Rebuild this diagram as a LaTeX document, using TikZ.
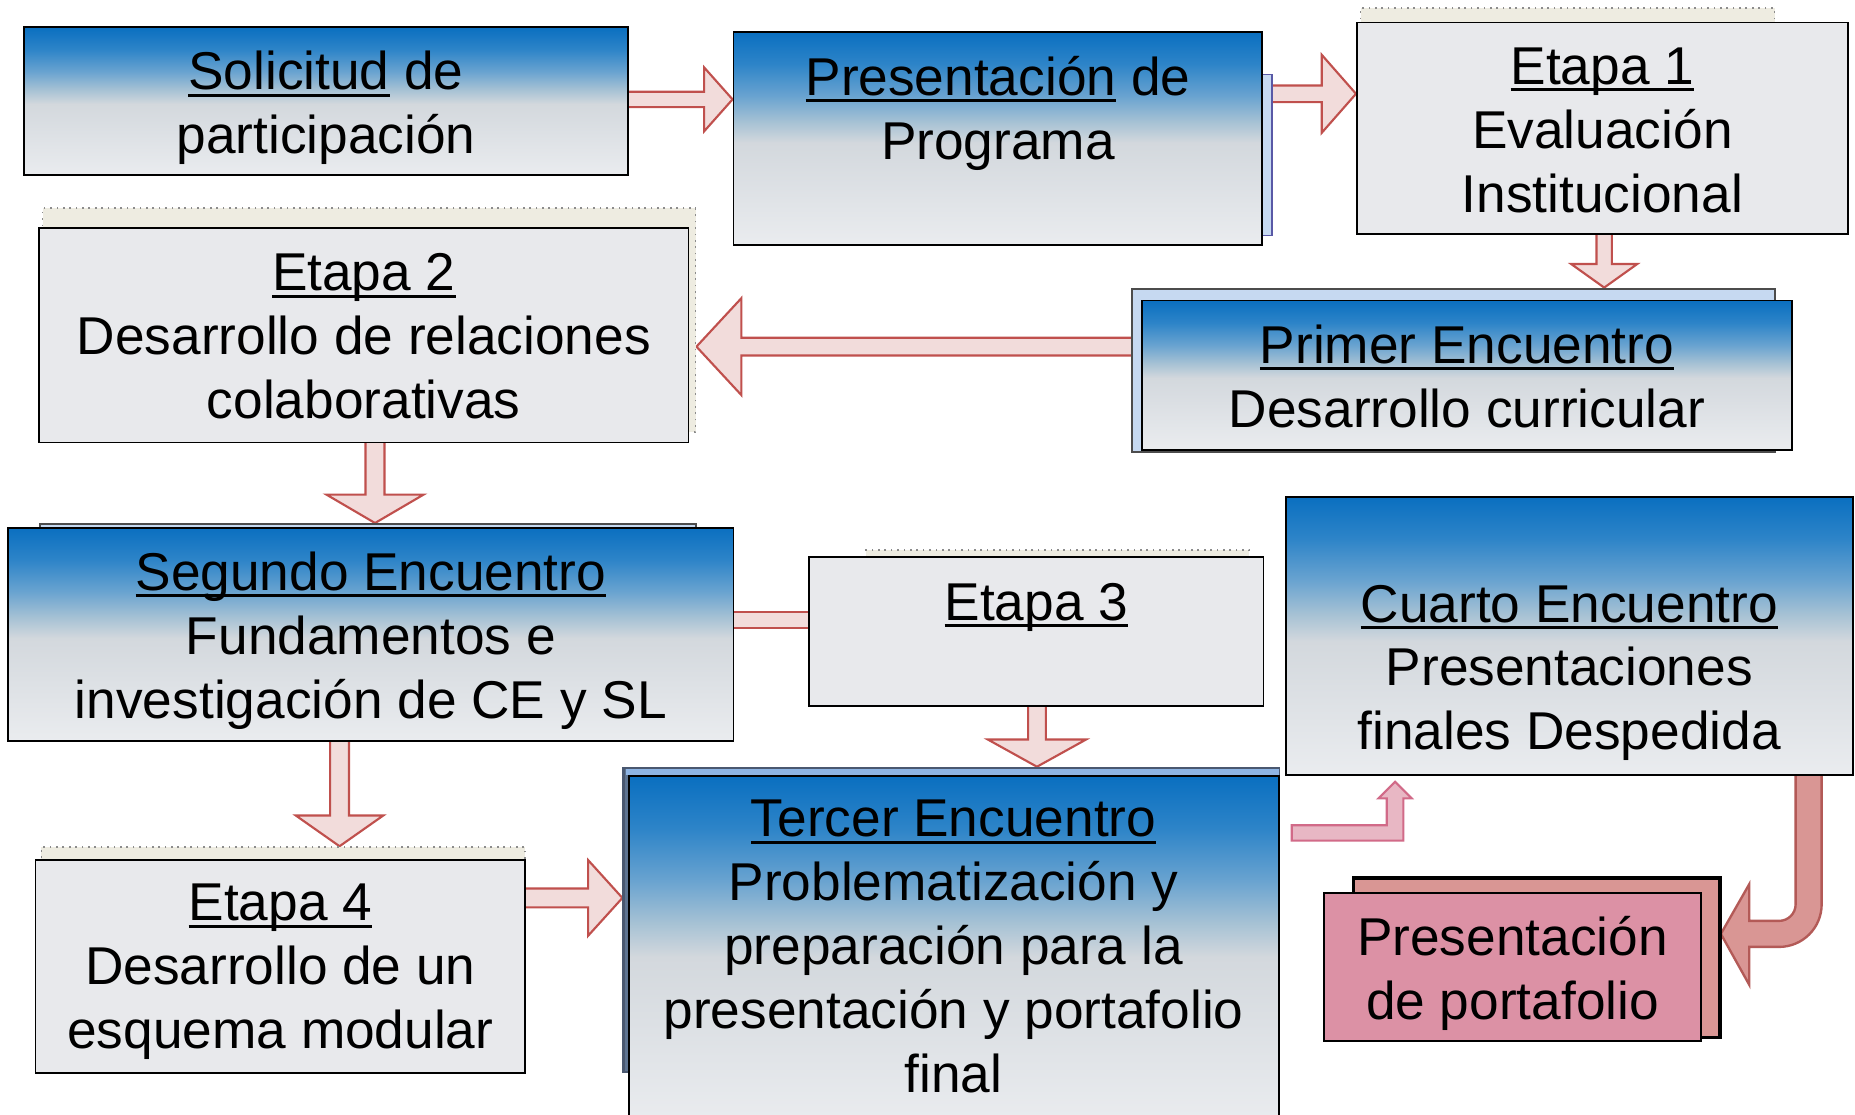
\documentclass[tikz,border=0pt]{standalone}
\usepackage{fontspec}
\setmainfont{Liberation Sans}
\usetikzlibrary{calc,fit}
\pgfdeclarelayer{bg}
\pgfsetlayers{bg,main}
\definecolor{gA}{RGB}{10,111,192}
\definecolor{gB}{RGB}{45,132,200}
\definecolor{gC}{RGB}{105,163,208}
\definecolor{gD}{RGB}{165,193,212}
\definecolor{gE}{RGB}{211,216,221}
\definecolor{gF}{RGB}{234,236,239}
\definecolor{boxgray}{RGB}{232,233,236}
\definecolor{creamc}{RGB}{238,236,225}
\definecolor{dotgray}{RGB}{140,140,140}
\definecolor{lblue}{RGB}{198,217,241}
\definecolor{tblue}{RGB}{142,180,227}
\definecolor{slate}{RGB}{74,88,112}
\definecolor{arrfill}{RGB}{242,220,219}
\definecolor{arrline}{RGB}{192,80,77}
\definecolor{bentfill}{RGB}{232,183,196}
\definecolor{bentline}{RGB}{209,106,136}
\definecolor{curvfill}{RGB}{217,150,148}
\definecolor{curvline}{RGB}{179,90,87}
\definecolor{pinkfront}{RGB}{220,145,165}
\pgfdeclareverticalshading{ppt}{100bp}{color(0bp)=(gF); color(25bp)=(gF); color(49bp)=(gE); color(54bp)=(gD); color(60bp)=(gC); color(67.5bp)=(gB); color(75bp)=(gA); color(100bp)=(gA)}
\newsavebox\ulbox
\newcommand\ulin[1]{\sbox\ulbox{#1}\rlap{\rule[-0.13em]{\wd\ulbox}{0.055em}}\usebox\ulbox}
\newcommand\arrR[5]{\draw[blk] ($(#1)+(0,-#3)$) -- ($(#2)+(-#5,-#3)$) -- ($(#2)+(-#5,-#4)$) -- (#2) -- ($(#2)+(-#5,#4)$) -- ($(#2)+(-#5,#3)$) -- ($(#1)+(0,#3)$) -- cycle;}
\newcommand\arrL[5]{\draw[blk] ($(#1)+(0,-#3)$) -- ($(#2)+(#5,-#3)$) -- ($(#2)+(#5,-#4)$) -- (#2) -- ($(#2)+(#5,#4)$) -- ($(#2)+(#5,#3)$) -- ($(#1)+(0,#3)$) -- cycle;}
\newcommand\arrD[5]{\draw[blk] ($(#1)+(-#3,0)$) -- ($(#2)+(-#3,-#5)$) -- ($(#2)+(-#4,-#5)$) -- (#2) -- ($(#2)+(#4,-#5)$) -- ($(#2)+(#3,-#5)$) -- ($(#1)+(#3,0)$) -- cycle;}
\tikzset{
 gbox/.style={draw=black, line width=0.8pt, shade, shading=ppt, inner sep=0pt},
 pbox/.style={draw=black, line width=0.8pt, fill=boxgray, inner sep=0pt},
 creambox/.style={draw=dotgray, dotted, line width=0.7pt, fill=creamc, inner sep=0pt},
 bluebk/.style={draw=black!70, line width=0.9pt, fill=lblue, inner sep=0pt},
 txt/.style={align=center, inner sep=0pt, anchor=north, yshift=-6pt, font=\fontsize{22.5pt}{27pt}\selectfont, execute at begin node={\rule{0pt}{1em}}},
 blk/.style={fill=arrfill, draw=arrline, line width=0.9pt},
 bentarrow/.style={fill=bentfill, draw=bentline, line width=0.9pt},
 curvarrow/.style={fill=curvfill, draw=curvline, line width=1pt},
}
\begin{document}
\begin{tikzpicture}[x=0.5pt,y=-0.5pt]
\useasboundingbox (0,0) rectangle (1568,942);
\begin{pgfonlayer}{bg}
\fill[white] (0,0) rectangle (1568,942);
\end{pgfonlayer}
% boxes
\node[gbox, fit={(20,23) (531,148)}] (solic) {};
\node[bluebk, draw=blue!30!gray, line width=0.7pt, fit={(700,63) (1075,199)}] (presb) {};
\node[gbox, fit={(620,27) (1067,207)}] (pres) {};
\node[creambox, fit={(1150,7) (1500,190)}] (et1b) {};
\node[pbox, fit={(1147,19) (1562,198)}] (et1) {};
\node[creambox, fit={(36,176) (588,365)}] (et2b) {};
\node[pbox, fit={(33,193) (582,374)}] (et2) {};
\node[bluebk, fit={(957,244) (1500,382)}] (primb) {};
\node[gbox, fit={(965,254) (1515,380)}] (prim) {};
\node[bluebk, fit={(34,443) (588,600)}] (segb) {};
\node[gbox, fit={(7,446) (620,626)}] (seg) {};
\node[creambox, fit={(732,465) (1056,590)}] (et3b) {};
\node[pbox, fit={(684,471) (1068,597)}] (et3) {};
\node[gbox, fit={(1087,420) (1566,655)}] (cua) {};
\node[fill=slate!70!tblue, draw=slate, line width=0.9pt, inner sep=0pt, fit={(527,649) (1081,906)}] (terb) {};
\fill[tblue] ($(terb.north west)+(3,2)$) rectangle ($(terb.north east)+(-1,7)$);
\node[gbox, fit={(532,656) (1081,950)}] (ter) {};
\node[creambox, fit={(35,716) (444,900)}] (et4b) {};
\node[pbox, fit={(30,727) (444,907)}] (et4) {};
\node[fill=curvfill, draw=black, line width=1.6pt, inner sep=0pt, fit={(1144,742) (1454,877)}] (portb) {};
\node[fill=pinkfront, draw=black, line width=0.8pt, inner sep=0pt, fit={(1119,755) (1438,880)}] (port) {};
% texts
\node[txt] (solic-t) at (275.5,31) {\ulin{Solicitud} de\\participación};
\node[txt] (pres-t) at (843.5,35) {\ulin{Presentación} de\\Programa};
\node[txt] (et1-t) at (1354.5,28) {\ulin{Etapa 1}\\Evaluación\\Institucional};
\node[txt] (et2-t) at (307.5,202) {\ulin{Etapa 2}\\Desarrollo de relaciones\\colaborativas};
\node[txt] (prim-t) at (1240,262) {\ulin{Primer Encuentro}\\Desarrollo curricular};
\node[txt] (seg-t) at (313.5,454) {\ulin{Segundo Encuentro}\\Fundamentos e\\investigación de CE y SL};
\node[txt] (et3-t) at (876,467) {\ulin{Etapa 3}};
\node[txt] (cua-t) at (1326.5,482) {\ulin{Cuarto Encuentro}\\Presentaciones\\finales Despedida};
\node[txt] (ter-t) at (806,664) {\ulin{Tercer Encuentro}\\Problematización y\\preparación para la\\presentación y portafolio\\final};
\node[txt] (et4-t) at (237,735) {\ulin{Etapa 4}\\Desarrollo de un\\esquema modular};
\node[txt] (port-t) at (1278.5,762) {Presentación\\de portafolio};
% connector end points
\coordinate (a1s) at ($(solic.east)+(-4,-1.5)$);
\coordinate (a1t) at (pres.west |- a1s);
\coordinate (a2s) at ($(presb.north east)+(-4,17)$);
\coordinate (a2t) at (et1.west |- a2s);
\coordinate (a3s) at ($(et1.south)+(1.5,-4)$);
\coordinate (a3t) at (a3s |- primb.north);
\coordinate (a4s) at ($(primb.west)+(4,-20)$);
\coordinate (a4t) at (et2b.east |- a4s);
\coordinate (a5s) at ($(et2.south)+(9.5,-4)$);
\coordinate (a5t) at (a5s |- segb.north);
\coordinate (a6s) at ($(et3.west)+(4,-10)$);
\coordinate (a6t) at ($(seg.east |- a6s)+(-4,0)$);
\coordinate (a7s) at ($(et3.south)+(0.5,-4)$);
\coordinate (a7t) at (a7s |- terb.north);
\coordinate (a8s) at ($(seg.south)+(-26.5,-4)$);
\coordinate (a8t) at (a8s |- et4b.north);
\coordinate (a9s) at ($(et4.east)+(-4,-58)$);
\coordinate (a9t) at (terb.west |- a9s);
\coordinate (bs) at ($(terb.north east)+(10,56)$);
\coordinate (bt) at ($(cua.south west)+(93,5)$);
\coordinate (ct) at ($(cua.south east)+(-38,-3)$);
\coordinate (cp) at ($(portb.north east)+(-1,49)$);
\begin{pgfonlayer}{bg}
\arrR{a1s}{a1t}{6.5}{27}{24}
\arrR{a2s}{a2t}{7}{33}{29}
\arrD{a3s}{a3t}{6.5}{28}{20}
\arrL{a4s}{a4t}{7.5}{41}{38}
\arrD{a5s}{a5t}{8}{41}{24}
\draw[blk] ($(a6t)+(0,-7)$) rectangle ($(a6s)+(0,7)$);
\arrD{a7s}{a7t}{7.5}{41.5}{23}
\arrD{a8s}{a8t}{8}{37}{26}
\arrR{a9s}{a9t}{8}{32}{29}
\draw[bentarrow] ($(bs)+(0,-6.5)$) -- ($(bt |- bs)+(-7,-6.5)$) -- ($(bt)+(-7,14)$) -- ($(bt)+(-14,14)$) -- (bt) -- ($(bt)+(14,14)$) -- ($(bt)+(7,14)$) -- ($(bt |- bs)+(7,6.5)$) -- ($(bs)+(0,6.5)$) -- cycle;
\draw[curvarrow] ($(ct)+(-11,0)$) -- ($(ct |- cp)+(-11,-25)$) arc[start angle=0,end angle=90,radius=14] -- ($(cp)+(24,-11)$) -- ($(cp)+(24,-42)$) -- (cp) -- ($(cp)+(24,43)$) -- ($(cp)+(24,11)$) -- ($(ct |- cp)+(-25,11)$) arc[start angle=90,end angle=0,radius=36] -- ($(ct)+(11,0)$) -- cycle;
\end{pgfonlayer}
\end{tikzpicture}
\end{document}
